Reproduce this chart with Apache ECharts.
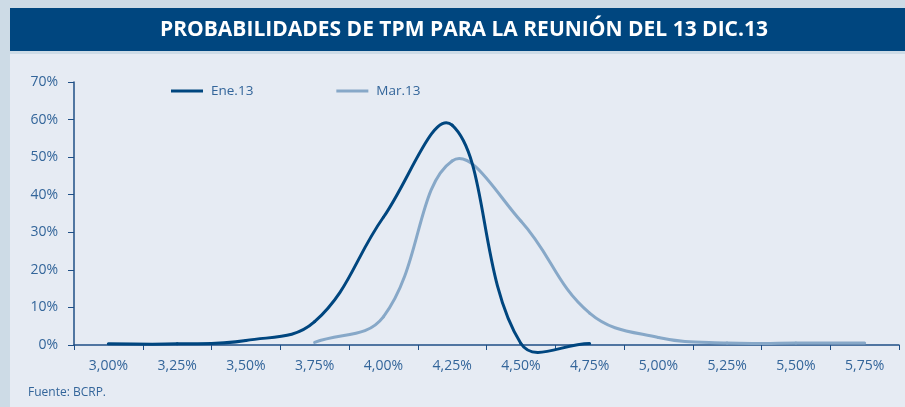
<!DOCTYPE html>
<html><head><meta charset="utf-8">
<script src="https://cdn.jsdelivr.net/npm/echarts@6/dist/echarts.min.js"></script>
<style>html,body{margin:0;padding:0;background:#cddbe6;}#c{width:905px;height:407px;}</style>
</head><body><div id="c"></div>
<script>
const titleText = 'PROBABILIDADES DE TPM PARA LA REUNIÓN DEL 13 DIC.13';
const sourceText = 'Fuente: BCRP.';
const categories = ['3,00%','3,25%','3,50%','3,75%','4,00%','4,25%','4,50%','4,75%','5,00%','5,25%','5,50%','5,75%'];
const ene13 = [0.3, 0.3, 1.2, 6.2, 34, 58.5, 0.4, 0.4, null, null, null, null];
const mar13 = [null, null, null, 0.7, 7.5, 49, 33, 8.5, 2.0, 0.5, 0.5, 0.5];
const yTicks = [0, 10, 20, 30, 40, 50, 60, 70];

const SMOOTH = 0.4;
function smoothSeries(name, vals, color, z) {
  const data = [];
  vals.forEach((v, i) => { if (v != null) data.push([i, v]); });
  return {
    name, type: 'custom', z, data, encode: {x: 0, y: 1}, clip: false,
    itemStyle: {color},
    renderItem: (params, api) => {
      const k = params.dataIndex;
      if (k >= data.length - 1) return null;
      const P = j => api.coord(data[Math.max(0, Math.min(data.length - 1, j))]);
      const p0 = P(k - 1), p1 = P(k), p2 = P(k + 1), p3 = P(k + 2);
      const dist = (a, b) => Math.hypot(a[0] - b[0], a[1] - b[1]);
      const a0 = dist(p1, p0), a1 = dist(p1, p2);
      const r1 = a1 / ((a0 + a1) || 1);
      const c1 = [p1[0] + (p2[0] - p0[0]) * SMOOTH * r1, p1[1] + (p2[1] - p0[1]) * SMOOTH * r1];
      const b0 = dist(p2, p1), b1 = dist(p2, p3);
      const r2 = b0 / ((b0 + b1) || 1);
      const c2 = [p2[0] - (p3[0] - p1[0]) * SMOOTH * r2, p2[1] - (p3[1] - p1[1]) * SMOOTH * r2];
      return {
        type: 'bezierCurve',
        shape: {x1: p1[0], y1: p1[1], x2: p2[0], y2: p2[1], cpx1: c1[0], cpy1: c1[1], cpx2: c2[0], cpy2: c2[1]},
        style: {stroke: color, lineWidth: 3, fill: null, lineCap: 'round'}
      };
    }
  };
}

const chart = echarts.init(document.getElementById('c'), null, {renderer:'canvas'});
const txt = '#33659a';
const font = '"Open Sans", "Noto Sans", sans-serif';
chart.setOption({
  backgroundColor: '#cddbe6',
  animation: false,
  graphic: [
    {type:'rect', z:-10, shape:{x:10, y:8, width:895, height:43}, style:{fill:'#00467f'}},
    {type:'rect', z:-10, shape:{x:10, y:54, width:895, height:353}, style:{fill:'#e6ebf3'}},
    {type:'text', left:28, top:387, style:{text:sourceText, fill:txt, font:'12px ' + font}}
  ],
  title: {
    text: titleText, left: 160, top: 20, padding: 0,
    textStyle: {color:'#ffffff', fontSize:21, fontWeight:'bold', fontFamily: font}
  },
  legend: {
    left: 171, top: 84, padding: 0, itemGap: 83, itemWidth: 32, itemHeight: 3, icon: 'rect',
    textStyle: {color: txt, fontSize: 13.5, fontFamily: font, padding:[0,0,0,3]},
    data: ['Ene.13', 'Mar.13']
  },
  grid: {left: 74, right: 6, top: 82, bottom: 62, containLabel: false},
  xAxis: {
    type: 'category', data: categories, boundaryGap: true,
    axisLine: {lineStyle: {color: '#1f4f86', width: 1.5}},
    axisTick: {show: true, length: 5, lineStyle: {color: '#1f4f86'}},
    axisLabel: {color: txt, fontSize: 14, fontFamily: font, margin: 14},
    splitLine: {show: false}
  },
  yAxis: {
    type: 'value', min: 0, max: 70, interval: 10,
    axisLine: {show: true, lineStyle: {color: '#1f4f86', width: 1.5}},
    axisTick: {show: true, length: 6, lineStyle: {color: '#1f4f86'}},
    axisLabel: {color: txt, fontSize: 14, fontFamily: font, margin: 16,
      formatter: v => yTicks.includes(v) ? v + '%' : ''},
    splitLine: {show: false}
  },
  series: [
    smoothSeries('Ene.13', ene13, '#00467f', 3),
    smoothSeries('Mar.13', mar13, '#87a8c8', 2)
  ]
});
</script></body></html>
